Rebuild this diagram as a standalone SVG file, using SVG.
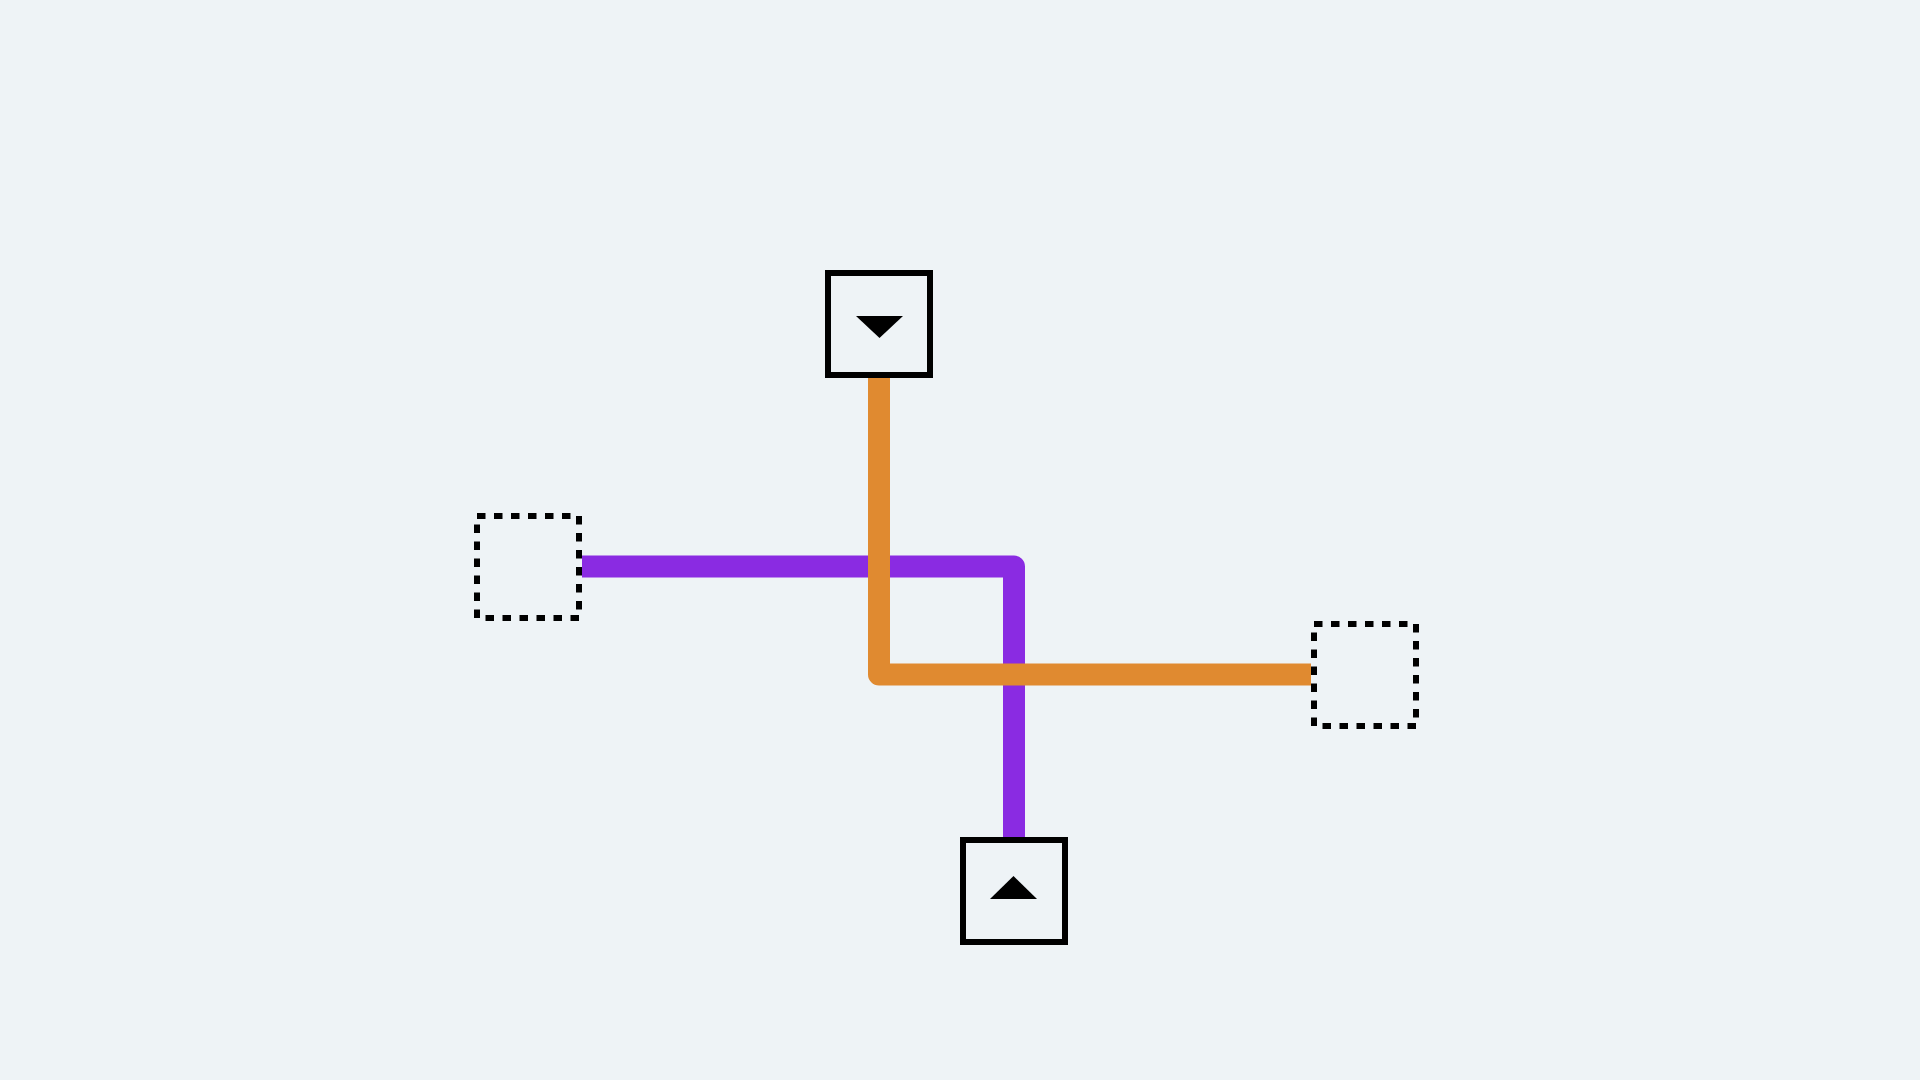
<svg xmlns="http://www.w3.org/2000/svg" width="1920" height="1080" viewBox="0 0 1920 1080">
  <style>
    .node { fill: #eef3f6; stroke: #000; stroke-width: 6; }
    .ghost { fill: none; stroke: #000; stroke-width: 6; stroke-dasharray: 8.5 8.5; }
    .glyph { fill: #000; }
    .wire { fill: none; stroke-width: 22; stroke-linejoin: round; stroke-linecap: butt; }
  </style>
  <rect width="1920" height="1080" fill="#eef3f6"/>
  <g id="connectors">
    <path class="wire" stroke="#8a2be2" d="M 582 566.5 H 1014 V 837"/>
    <path class="wire" stroke="#e08a30" d="M 879 378 V 674.5 H 1311"/>
  </g>
  <g id="node-top">
    <rect class="node" x="828" y="273" width="102" height="102"/>
    <polygon class="glyph" points="856,316 903,316 879.5,338"/>
  </g>
  <g id="node-bottom">
    <rect class="node" x="963" y="840" width="102" height="102"/>
    <polygon class="glyph" points="990,899 1037,899 1013.5,876"/>
  </g>
  <g id="node-left">
    <rect class="ghost" x="477" y="516" width="102" height="102"/>
  </g>
  <g id="node-right">
    <rect class="ghost" x="1314" y="624" width="102" height="102"/>
  </g>
</svg>
